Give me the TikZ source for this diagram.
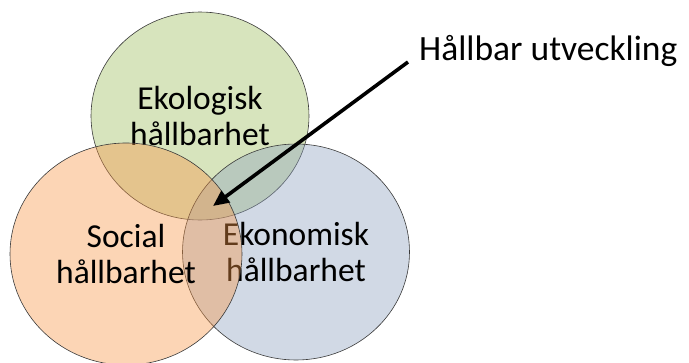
\documentclass[tikz,border=0pt]{standalone}
\usepackage{fontspec}
\setmainfont{Carlito}
\usetikzlibrary{shapes.geometric,arrows.meta}
\definecolor{ecogreen}{HTML}{9BBB59}
\definecolor{socorange}{HTML}{F79646}
\definecolor{econblue}{HTML}{8CA0BE}
\definecolor{rimgray}{HTML}{3A3A3A}
\tikzset{
  pillar/.style={ellipse, draw=rimgray, line width=0.6pt, fill opacity=0.4,
    text opacity=1, align=center, inner sep=0pt,
    font=\fontsize{33.5}{36.5}\selectfont},
  pointer/.style={line width=3.6pt, -{Triangle[length=16pt,width=14pt]}},
  callout/.style={anchor=west, inner sep=0pt, font=\fontsize{35.5}{40}\selectfont}
}
\begin{document}
\begin{tikzpicture}[x=1pt,y=-1pt]
\useasboundingbox (0,0) rectangle (689,362);
\node[pillar, fill=ecogreen, minimum width=218pt, minimum height=208pt] (eko) at (200,116) {Ekologisk\\hållbarhet};
\node[pillar, fill=econblue, minimum width=227pt, minimum height=216pt] (ekon) at (296,252) {Ekonomisk\\hållbarhet};
\node[pillar, fill=socorange, minimum width=232pt, minimum height=222pt] (soc) at (126,254) {Social\\hållbarhet};
\node[callout] (lbl) at (419,51) {Hållbar utveckling};
\coordinate (start) at (408,62);
\coordinate (tip) at (213,206);
\draw[pointer] (start) -- (tip);
\end{tikzpicture}
\end{document}
